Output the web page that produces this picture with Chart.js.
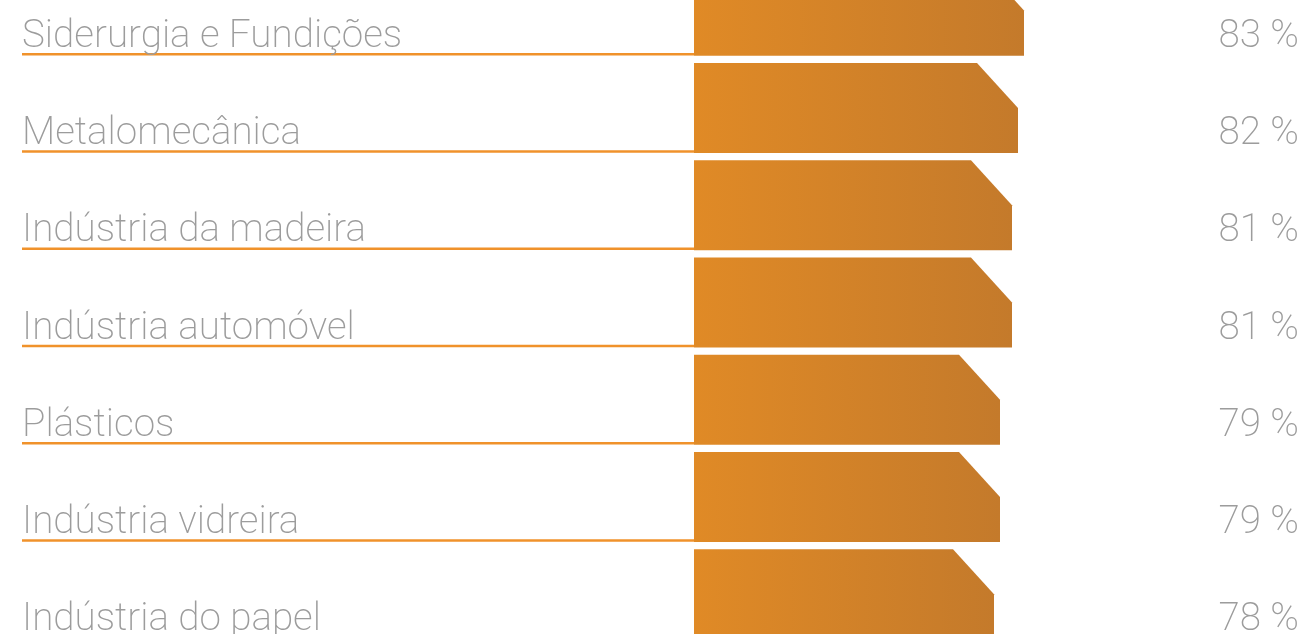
<!DOCTYPE html>
<html lang="pt">
<head>
  <meta charset="UTF-8"/>
  <title>Setores</title>
  <script src="https://cdn.jsdelivr.net/npm/chart.js"></script>
  <style>
    html, body { margin:0; padding:0; background:#fff; overflow:hidden; }
    body { width:1307px; height:634px; position:relative; }
    .wrap { position:absolute; left:0; top:-38px; width:1307px; height:681px; }
  </style>
</head>
<body>
<div class="wrap"><canvas id="chart"></canvas></div>

<script>
  // data
  const sectors = ['Siderurgia e Fundições','Metalomecânica','Indústria da madeira','Indústria automóvel','Plásticos','Indústria vidreira','Indústria do papel'];
  const shares = [83, 82, 81, 81, 79, 79, 78];

  const FONT = '200 38.6px Roboto, "Liberation Sans", sans-serif';
  const GREY = '#9c9c9c', LINE = '#f0922b';

  // bars with a cut top-right corner
  const shapes = {
    id:'shapes',
    beforeDatasetDraw(chart, args){
      const c = chart.ctx, left = chart.chartArea.left;
      args.meta.data.forEach(bar => {
        const {x, y, base, height} = bar.getProps(['x','y','base','height'], true);
        const b = Math.max(base, left);
        const top = y - height/2, bot = y + height/2;
        const g = c.createLinearGradient(b, 0, x, 0);
        g.addColorStop(0, '#e08a26');
        g.addColorStop(1, '#c47a2b');
        c.save();
        c.fillStyle = g;
        c.beginPath();
        c.moveTo(b, top);
        c.lineTo(x - 41, top);
        c.lineTo(x, top + 45);
        c.lineTo(x, bot);
        c.lineTo(b, bot);
        c.closePath();
        c.fill();
        c.restore();
      });
      return false;
    },
    // category labels, underline and value text
    afterDraw(chart){
      const c = chart.ctx, meta = chart.getDatasetMeta(0), ys = chart.scales.y;
      const left = chart.chartArea.left;
      c.save();
      c.font = FONT;
      c.textBaseline = 'alphabetic';
      meta.data.forEach((bar, i) => {
        const {height} = bar.getProps(['height'], true);
        const y = ys.getPixelForTick(i);
        c.strokeStyle = LINE;
        c.lineWidth = 2.5;
        c.beginPath();
        c.moveTo(22, y + height/2 - 1.5);
        c.lineTo(left, y + height/2 - 1.5);
        c.stroke();
        c.fillStyle = GREY;
        c.textAlign = 'left';
        c.fillText(ys.getLabelForValue(i), 22, y + 36);
        c.textAlign = 'right';
        c.fillText(shares[i] + ' %', 1299, y + 36);
      });
      c.restore();
    }
  };

  new Chart(document.getElementById('chart'), {
    type:'bar',
    data:{ labels:sectors, datasets:[{ data:shares, backgroundColor:'#e08a26', categoryPercentage:1, barPercentage:0.926 }] },
    options:{
      indexAxis:'y',
      responsive:true,
      maintainAspectRatio:false,
      animation:false,
      layout:{ padding:{ left:694, right:280, top:0, bottom:0 } },
      plugins:{ legend:{display:false}, tooltip:{enabled:false} },
      scales:{
        x:{ display:false, min:28, max:83.5 },
        y:{ display:false }
      }
    },
    plugins:[shapes]
  });
</script>
</body>
</html>
